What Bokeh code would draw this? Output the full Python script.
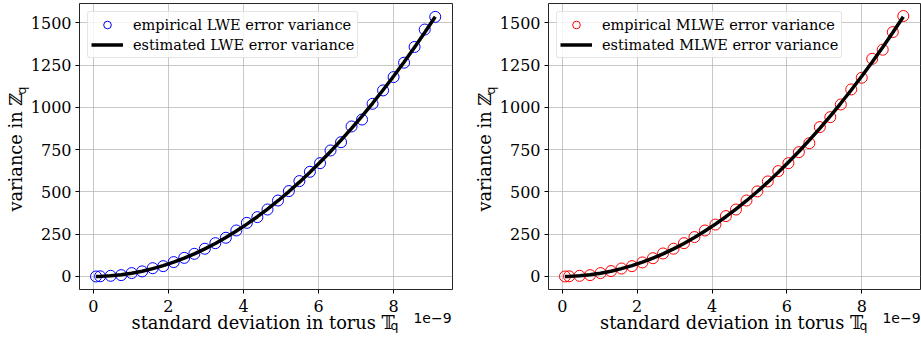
import math
from bokeh.plotting import figure
from bokeh.layouts import row
from bokeh.models import FixedTicker, Range1d, LinearAxis
from bokeh.embed import file_html
from bokeh.resources import INLINE

# standard deviation in torus T_q, in units of 1e-9
sigma = [0.07, 0.18, 0.46, 0.74, 1.02, 1.30, 1.58, 1.86, 2.14, 2.42, 2.69, 2.97,
         3.25, 3.53, 3.81, 4.09, 4.37, 4.64, 4.92, 5.21, 5.49, 5.77, 6.04, 6.32,
         6.60, 6.88, 7.16, 7.44, 7.72, 8.00, 8.28, 8.56, 8.83, 9.11]

lwe_empirical = [0, 1, 4, 8, 20, 30, 49, 61, 85, 110, 134, 164, 197, 229, 272, 317,
                 351, 396, 449, 505, 564, 619, 670, 745, 794, 887, 928, 1021, 1100,
                 1179, 1264, 1357, 1460, 1535]
lwe_estimated = [0.1, 0.6, 3.9, 10.1, 19.2, 31.3, 46.2, 64.0, 84.7, 108.3, 133.9, 163.2,
                 195.4, 230.5, 268.5, 309.5, 353.3, 398.3, 447.8, 502.2, 557.6, 615.9,
                 674.9, 738.9, 805.9, 875.7, 948.4, 1024.0, 1102.5, 1184.0, 1268.3,
                 1355.6, 1442.4, 1535.4]

mlwe_empirical = [0, 1, 4, 8, 20, 32, 47, 61, 83, 108, 136, 164, 197, 233, 272, 307,
                  357, 396, 449, 503, 562, 623, 670, 735, 788, 883, 942, 1017, 1106,
                  1175, 1287, 1341, 1445, 1540]
mlwe_estimated = [0.1, 0.6, 3.9, 10.1, 19.2, 31.3, 46.2, 64.0, 84.7, 108.3, 133.9, 163.2,
                  195.4, 230.5, 268.5, 309.5, 353.3, 398.3, 447.8, 502.2, 557.6, 615.9,
                  674.9, 738.9, 805.9, 875.7, 948.4, 1024.0, 1102.5, 1184.0, 1268.3,
                  1355.6, 1442.4, 1535.4]

x_ticks = [0, 2, 4, 6, 8]
y_ticks = [0, 250, 500, 750, 1000, 1250, 1500]

x_title = "standard deviation in torus \U0001D54B\u00a0"
y_title = "variance in \u2124\u00a0\u00a0"
sub_text = "q"
offset_text = "1e\u22129"

SERIF = "DejaVu Serif"
SANS = "DejaVu Sans"

X0, X1 = -0.37, 9.57
Y0, Y1 = -77, 1614
HEIGHT = 339
BTOP, BBOT = 3, 50


def text_axis(p, side, pos, text, font, size, standoff, angle=0.0):
    """An extra, line-less axis whose single tick label carries a piece of text."""
    ax = LinearAxis(ticker=FixedTicker(ticks=[pos]),
                    major_label_overrides={pos: text})
    ax.axis_line_color = None
    ax.major_tick_line_color = None
    ax.minor_tick_line_color = None
    ax.major_tick_in = 0
    ax.major_tick_out = 0
    ax.minor_tick_out = 0
    ax.major_label_text_font = font
    ax.major_label_text_font_size = size
    ax.major_label_text_color = "black"
    ax.major_label_standoff = standoff
    if angle:
        ax.major_label_orientation = angle
    p.add_layout(ax, side)
    return ax


def make_panel(width, border_left, border_right, emp, est, color, name):
    p = figure(width=width, height=HEIGHT, output_backend="svg", toolbar_location=None,
               x_range=Range1d(X0, X1), y_range=Range1d(Y0, Y1),
               min_border_left=border_left, min_border_right=border_right,
               min_border_top=BTOP, min_border_bottom=BBOT)
    fw = width - border_left - border_right
    fh = HEIGHT - BTOP - BBOT

    def dx(px):  # frame-relative pixels -> data x
        return round(X0 + px * (X1 - X0) / fw, 3)

    def dy(py):  # frame-relative pixels (up from frame bottom) -> data y
        return round(Y0 + py * (Y1 - Y0) / fh, 1)

    p.background_fill_color = "white"
    p.border_fill_color = "white"
    p.outline_line_color = "black"
    p.outline_line_width = 1
    p.outline_line_alpha = 0.85

    p.xaxis.ticker = FixedTicker(ticks=x_ticks)
    p.yaxis.ticker = FixedTicker(ticks=y_ticks)
    for ax in (p.xaxis, p.yaxis):
        ax.axis_line_color = None
        ax.minor_tick_line_color = None
        ax.major_tick_line_color = "black"
        ax.major_tick_in = 0
        ax.major_tick_out = 4
        ax.major_label_text_font = SERIF
        ax.major_label_text_font_size = "16px"
        ax.major_label_text_color = "black"
        ax.axis_label_text_font = SERIF
        ax.axis_label_text_font_size = "17.8px"
        ax.axis_label_text_font_style = "normal"
        ax.axis_label_text_color = "black"
    p.xaxis.major_label_standoff = 6
    p.yaxis.major_label_standoff = 4
    p.xaxis.axis_label = x_title
    p.yaxis.axis_label = y_title
    p.xaxis.axis_label_standoff = -3
    p.yaxis.axis_label_standoff = 2

    p.grid.grid_line_color = "#b0b0b0"
    p.grid.grid_line_alpha = 0.7
    p.grid.grid_line_width = 1

    p.scatter(sigma, emp, marker="circle", size=11, fill_color=None,
              line_color=color, line_width=1,
              legend_label=f"empirical {name} error variance")
    p.line(sigma, est, line_color="black", line_width=3.5,
           legend_label=f"estimated {name} error variance")

    lg = p.legend[0]
    lg.location = "top_left"
    lg.margin = 8
    lg.padding = 3
    lg.spacing = 1
    lg.glyph_width = 32
    lg.glyph_height = 19
    lg.label_height = 19
    lg.label_standoff = 10
    lg.label_text_font = SERIF
    lg.label_text_font_size = "14.5px"
    lg.label_text_color = "black"
    lg.border_line_color = "#cccccc"
    lg.border_line_width = 1
    lg.border_radius = 3
    lg.background_fill_alpha = 0.8

    # subscript q of the x title, then the offset text "1e-9"
    text_axis(p, "below", dx(315), sub_text, SANS, "12.5px", -18)
    text_axis(p, "below", dx(353), offset_text, SANS, "14px", -23)
    # subscript q of the y title
    text_axis(p, "left", dy(203), sub_text, SANS, "12.5px", -20, math.pi / 2)
    return p


p1 = make_panel(460, 79, 8, lwe_empirical, lwe_estimated, "#0000ff", "LWE")
p2 = make_panel(461, 88, 1, mlwe_empirical, mlwe_estimated, "#ff0000", "MLWE")

layout = row(p1, p2)
open("out.html", "w").write(file_html(layout, INLINE))
